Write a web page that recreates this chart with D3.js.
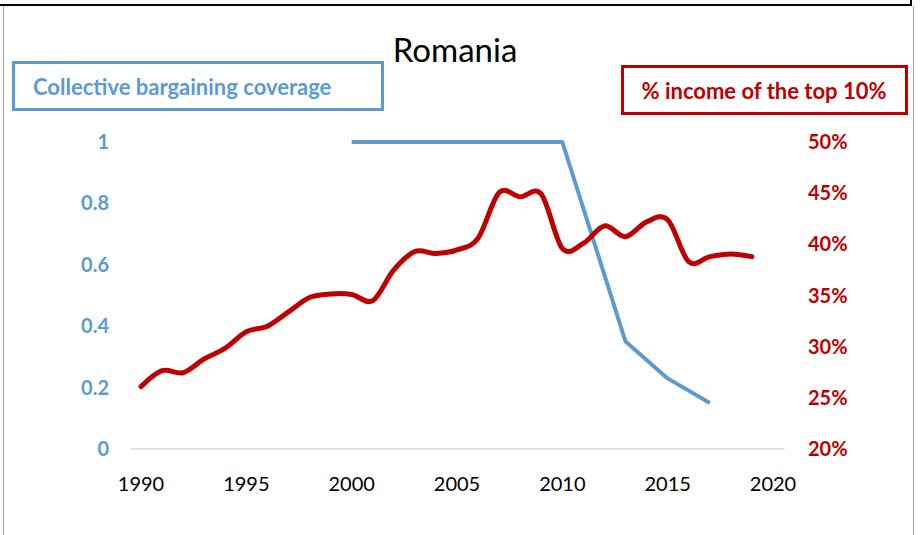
<!DOCTYPE html>
<html>
<head>
<meta charset="utf-8">
<script src="https://cdn.jsdelivr.net/npm/d3@7"></script>
<style>
  body { margin: 0; background: #fff; }
  svg { display: block; font-family: Lato, "Open Sans", sans-serif; }
</style>
</head>
<body>
<div id="chart"></div>
<script>
'use strict';

// coverage (left axis)
var coverageYears = [2000, 2010, 2013, 2015, 2017];
var coverageValues = [1, 1, 0.35, 0.23, 0.15];

// top 10% income share (right axis), 1990..2019
var incomeYears = d3.range(1990, 2020);
var incomeValues = [26.1, 27.65, 27.45, 28.8, 29.85, 31.45, 32.0, 33.4, 34.8, 35.15,
                    35.1, 34.5, 37.5, 39.3, 39.1, 39.45, 40.6, 45.05, 44.65, 44.9,
                    39.6, 40.1, 41.8, 40.75, 42.2, 42.4, 38.3, 38.8, 39.05, 38.8];

var xTicks = [1990, 1995, 2000, 2005, 2010, 2015, 2020];
var leftTicks = [0, 0.2, 0.4, 0.6, 0.8, 1];
var rightTicks = [20, 25, 30, 35, 40, 45, 50];

var width = 921, height = 535;
var blue = '#5b9bd5', red = '#c00000';

var svg = d3.select('#chart').append('svg')
    .attr('width', width)
    .attr('height', height);

var x = d3.scaleLinear().domain([1990, 2020]).range([141, 773]);
var yLeft = d3.scaleLinear().domain([0, 1]).range([449, 142]);
var yRight = d3.scaleLinear().domain([20, 50]).range([449, 142]);

// outer frame
svg.append('line').attr('x1', 0).attr('x2', 912).attr('y1', 5).attr('y2', 5)
    .attr('stroke', '#000').attr('stroke-width', 2);
svg.append('line').attr('x1', 3.5).attr('x2', 3.5).attr('y1', 6).attr('y2', height)
    .attr('stroke', '#a6a6a6').attr('stroke-width', 1);
svg.append('line').attr('x1', 911).attr('x2', 911).attr('y1', 0).attr('y2', 6)
    .attr('stroke', '#000').attr('stroke-width', 2);
svg.append('line').attr('x1', 913.5).attr('x2', 913.5).attr('y1', 6).attr('y2', height)
    .attr('stroke', '#a6a6a6').attr('stroke-width', 1);

// baseline
svg.append('line')
    .attr('x1', x(1989.5)).attr('x2', x(2020.55))
    .attr('y1', yLeft(0)).attr('y2', yLeft(0))
    .attr('stroke', '#d9d9d9').attr('stroke-width', 1.5);

// x labels
svg.selectAll('text.xt')
    .data(xTicks)
    .enter()
    .append('text')
    .attr('class', 'xt')
    .attr('x', function(d) { return x(d); })
    .attr('y', 491)
    .attr('text-anchor', 'middle')
    .style('font-size', '20px')
    .attr('fill', '#000')
    .text(function(d) { return d; });

// left labels
svg.selectAll('text.lt')
    .data(leftTicks)
    .enter()
    .append('text')
    .attr('class', 'lt')
    .attr('x', 109)
    .attr('y', function(d) { return yLeft(d) + 7; })
    .attr('text-anchor', 'end')
    .style('font-size', '20px')
    .style('font-weight', 'bold')
    .attr('fill', blue)
    .text(function(d) { return d; });

// right labels
svg.selectAll('text.rt')
    .data(rightTicks)
    .enter()
    .append('text')
    .attr('class', 'rt')
    .attr('x', 808)
    .attr('y', function(d) { return yRight(d) + 7; })
    .style('font-size', '20px')
    .style('font-weight', 'bold')
    .attr('fill', red)
    .text(function(d) { return d + '%'; });

// coverage line
var coverageLine = d3.line()
    .x(function(d, i) { return x(coverageYears[i]); })
    .y(function(d) { return yLeft(d); });

svg.append('path')
    .datum(coverageValues)
    .attr('d', coverageLine)
    .attr('fill', 'none')
    .attr('stroke', blue)
    .attr('stroke-width', 4)
    .attr('stroke-linejoin', 'round');

// income line, smoothed like the spreadsheet
var incomeLine = d3.line()
    .x(function(d, i) { return x(incomeYears[i]); })
    .y(function(d) { return yRight(d); })
    .curve(d3.curveCatmullRom.alpha(0));

svg.append('path')
    .datum(incomeValues)
    .attr('d', incomeLine)
    .attr('fill', 'none')
    .attr('stroke', red)
    .attr('stroke-width', 5)
    .attr('stroke-linecap', 'round')
    .attr('stroke-linejoin', 'round');

// title
svg.append('text')
    .attr('x', 455)
    .attr('y', 62)
    .attr('text-anchor', 'middle')
    .style('font-size', '33px')
    .attr('fill', '#000')
    .text('Romania');

// legend boxes
svg.append('rect')
    .attr('x', 13.5).attr('y', 62.5).attr('width', 369).attr('height', 47)
    .attr('fill', '#fff').attr('stroke', blue).attr('stroke-width', 3);
svg.append('text')
    .attr('x', 33).attr('y', 95)
    .style('font-size', '22px').style('font-weight', 'bold')
    .attr('fill', blue)
    .text('Collective bargaining coverage');

svg.append('rect')
    .attr('x', 622.5).attr('y', 66.5).attr('width', 284).attr('height', 47)
    .attr('fill', '#fff').attr('stroke', red).attr('stroke-width', 3);
svg.append('text')
    .attr('x', 764).attr('y', 99)
    .attr('text-anchor', 'middle')
    .style('font-size', '22px').style('font-weight', 'bold')
    .attr('fill', red)
    .text('% income of the top 10%');
</script>
</body>
</html>
